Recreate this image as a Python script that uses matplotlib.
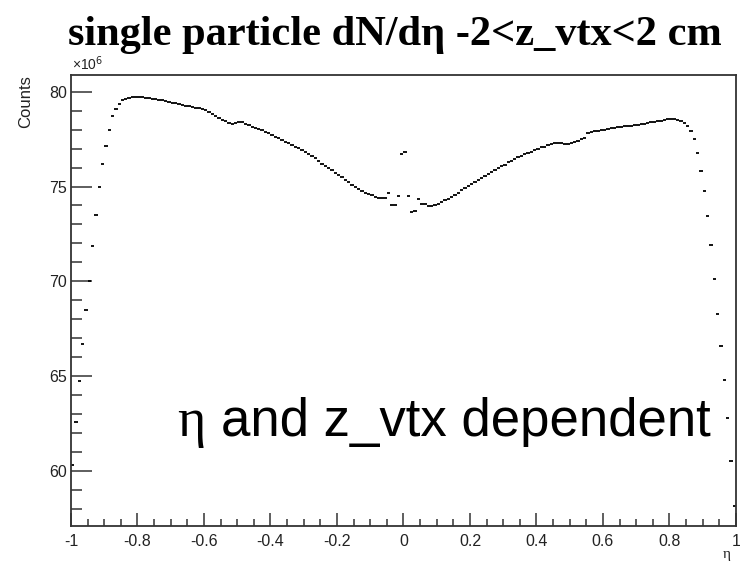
import numpy as np
import matplotlib
matplotlib.use("Agg")
import matplotlib.pyplot as plt
from matplotlib.ticker import MultipleLocator, FuncFormatter

plt.rcParams["axes.unicode_minus"] = False

# eta binning: 200 bins of width 0.01 on [-1, 1]
eta_min, eta_max, n_bins = -1.0, 1.0, 200

# bin contents (x10^6) for eta < 0, from -0.995 up to -0.005
counts_neg = [
    60.3, 62.56, 64.75, 66.67, 68.5, 70.0, 71.84, 73.5, 74.95, 76.2,
    77.14, 78.0, 78.7, 79.1, 79.36, 79.54, 79.63, 79.68, 79.71, 79.72,
    79.71, 79.7, 79.68, 79.66, 79.63, 79.6, 79.57, 79.54, 79.5, 79.46,
    79.42, 79.38, 79.34, 79.3, 79.26, 79.23, 79.19, 79.16, 79.12, 79.08,
    79.05, 78.93, 78.8, 78.7, 78.59, 78.52, 78.45, 78.37, 78.3, 78.37,
    78.4, 78.38, 78.3, 78.23, 78.16, 78.1, 78.03, 77.96, 77.89, 77.8,
    77.71, 77.62, 77.54, 77.45, 77.37, 77.28, 77.19, 77.1, 77.01, 76.93,
    76.83, 76.72, 76.6, 76.48, 76.35, 76.2, 76.08, 75.96, 75.85, 75.72,
    75.6, 75.48, 75.35, 75.22, 75.1, 74.98, 74.87, 74.77, 74.68, 74.6,
    74.53, 74.47, 74.41, 74.39, 74.42, 74.66, 74.0, 74.02, 74.5, 76.7,
]

# bin contents (x10^6) for eta > 0, from 0.005 up to 0.995
counts_pos = [
    76.8, 74.5, 73.68, 73.7, 74.33, 74.1, 74.06, 73.98, 73.98, 74.0,
    74.1, 74.2, 74.28, 74.35, 74.45, 74.55, 74.67, 74.8, 74.92, 75.03,
    75.14, 75.24, 75.34, 75.45, 75.56, 75.66, 75.77, 75.88, 75.99, 76.07,
    76.16, 76.28, 76.36, 76.45, 76.54, 76.62, 76.69, 76.77, 76.84, 76.92,
    76.99, 77.06, 77.11, 77.17, 77.22, 77.28, 77.32, 77.28, 77.23, 77.25,
    77.3, 77.35, 77.42, 77.48, 77.56, 77.8, 77.87, 77.91, 77.94, 77.97,
    78.0, 78.03, 78.06, 78.09, 78.12, 78.15, 78.17, 78.19, 78.21, 78.23,
    78.26, 78.29, 78.32, 78.36, 78.39, 78.42, 78.45, 78.48, 78.51, 78.54,
    78.55, 78.55, 78.53, 78.47, 78.35, 78.2, 77.95, 77.52, 76.78, 75.83,
    74.74, 73.46, 71.93, 70.13, 68.3, 66.58, 64.79, 62.77, 60.54, 58.17,
]

x_ticks = [-1, -0.8, -0.6, -0.4, -0.2, 0, 0.2, 0.4, 0.6, 0.8, 1]
y_ticks = [60, 65, 70, 75, 80]

counts = np.array(counts_neg + counts_pos)
edges = np.linspace(eta_min, eta_max, n_bins + 1)

fig = plt.figure(figsize=(7.4, 5.61), dpi=100)
ax = fig.add_axes([0.0959, 0.0624, 0.8986, 0.8039])

# each bin drawn as a horizontal bar spanning the bin width
ax.hlines(counts, edges[:-1], edges[1:], colors="black", linewidth=1.3)

ax.set_xlim(eta_min, eta_max)
ax.set_ylim(57.1, 80.88)

ax.set_xticks(x_ticks)
ax.xaxis.set_minor_locator(MultipleLocator(0.05))
ax.set_yticks(y_ticks)
ax.yaxis.set_minor_locator(MultipleLocator(1))
ax.xaxis.set_major_formatter(FuncFormatter(lambda v, p: f"{v:g}"))
ax.yaxis.set_major_formatter(FuncFormatter(lambda v, p: f"{v:g}"))

ax.tick_params(axis="both", which="both", direction="in", color="#333333",
               width=1.1, labelsize=11.5, labelcolor="#222222")
ax.tick_params(axis="x", which="major", length=9.1, pad=6)
ax.tick_params(axis="x", which="minor", length=4.8)
ax.tick_params(axis="y", which="major", length=14.9, pad=3)
ax.tick_params(axis="y", which="minor", length=7.7)
for lbl in ax.get_xticklabels() + ax.get_yticklabels():
    lbl.set_family("Liberation Sans")

for s in ax.spines.values():
    s.set_linewidth(1.3)
    s.set_color("#333333")

# axis titles in the corner positions
fig.text(0.034, 0.866, "Counts", rotation=90, ha="center", va="top",
         fontsize=12, family="Liberation Sans", color="#222222")
fig.text(0.982, 0.0, "η", ha="center", va="bottom", fontsize=11,
         family="Liberation Serif", color="#222222")
fig.text(0.097, 0.870, "×10$^{6}$", ha="left", va="bottom", fontsize=10,
         family="Liberation Sans", color="#222222")

fig.text(0.534, 0.92, "single particle dN/dη -2<z_vtx<2 cm", ha="center",
         va="baseline", fontsize=30.5, fontweight="bold",
         family="Liberation Serif")

fig.text(0.240, 0.222, "η", ha="left", va="baseline", fontsize=39,
         family="Liberation Serif")
fig.text(0.299, 0.222, "and z_vtx dependent", ha="left", va="baseline",
         fontsize=38, family="Liberation Sans")

fig.savefig("out.png", dpi=100)
